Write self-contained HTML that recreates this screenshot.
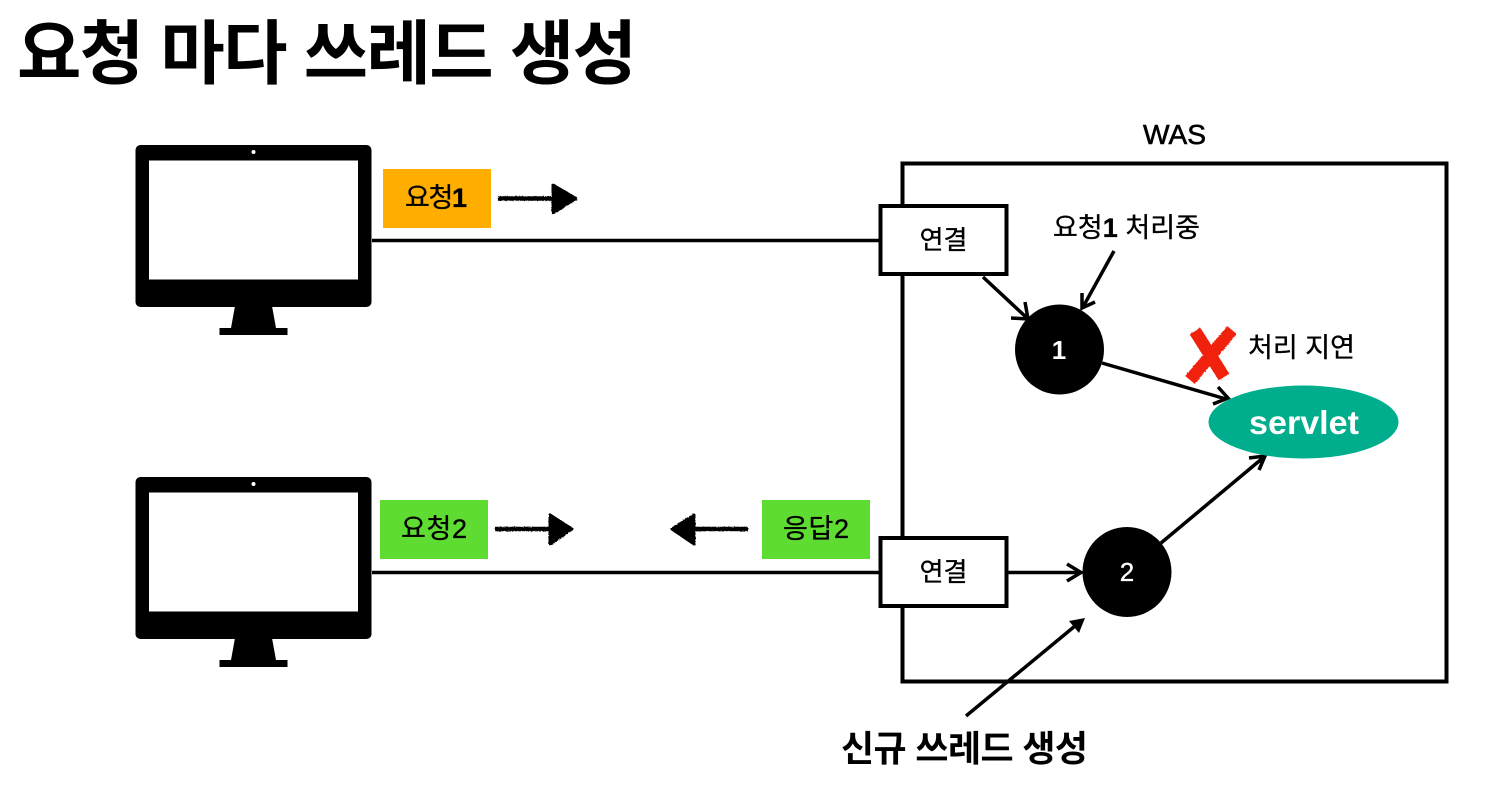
<!DOCTYPE html>
<html lang="ko">
<head>
<meta charset="utf-8">
<style>
html,body{margin:0;padding:0;background:#fff}
svg{display:block}
text{font-family:"Liberation Sans","Noto Sans CJK KR",sans-serif}
.m{stroke:#000;stroke-width:.35px}
.w{stroke:#fff;stroke-width:.35px}
</style>
</head>
<body>
<svg width="1499" height="792" viewBox="0 0 1499 792" xmlns="http://www.w3.org/2000/svg">
<defs>
<g id="mon">
  <rect x="135.5" y="145" width="236" height="162" rx="5" fill="#000"/>
  <rect x="149" y="160.5" width="209" height="119" fill="#fff"/>
  <circle cx="253.5" cy="152" r="2" fill="#fff"/>
  <path d="M235 306 L272 306 L276 328 L287.5 328 L287.5 335 L219.5 335 L219.5 328 L231 328 Z" fill="#000"/>
</g>
<filter id="rough" x="-10%" y="-30%" width="120%" height="160%">
  <feTurbulence type="fractalNoise" baseFrequency="0.7" numOctaves="2" seed="4" result="n"/>
  <feDisplacementMap in="SourceGraphic" in2="n" scale="2"/>
</filter>
</defs>
<rect width="1499" height="792" fill="#fff"/>

<text x="17" y="78" font-size="70" font-weight="700" fill="#000" textLength="620" lengthAdjust="spacing">요청 마다 쓰레드 생성</text>

<use href="#mon"/>
<use href="#mon" y="332"/>

<!-- WAS -->
<text x="1174.5" y="144" font-size="28" text-anchor="middle" fill="#000" stroke="#000" stroke-width=".6" textLength="63" lengthAdjust="spacingAndGlyphs">WAS</text>
<rect x="902.5" y="163.5" width="544" height="518" fill="none" stroke="#000" stroke-width="4"/>

<!-- lines -->
<line x1="372" y1="240.5" x2="882" y2="240.5" stroke="#000" stroke-width="3.5"/>
<line x1="372" y1="572.5" x2="882" y2="572.5" stroke="#000" stroke-width="3.5"/>

<!-- connection boxes -->
<rect x="880.5" y="206" width="126" height="68" fill="#fff" stroke="#000" stroke-width="4"/>
<text x="943.5" y="249" font-size="26" class="m" text-anchor="middle" fill="#000">연결</text>
<rect x="880.5" y="538" width="126" height="68" fill="#fff" stroke="#000" stroke-width="4"/>
<text x="943.5" y="581" font-size="26" class="m" text-anchor="middle" fill="#000">연결</text>

<!-- request labels -->
<rect x="383" y="169" width="108" height="59" fill="#ffae00"/>
<text x="405" y="207" font-size="27" class="m" fill="#000" textLength="62" lengthAdjust="spacing">요청<tspan font-weight="700">1</tspan></text>
<rect x="380" y="500" width="108" height="59" fill="#5fdc32"/>
<text x="401" y="538" font-size="27" class="m" fill="#000" textLength="66" lengthAdjust="spacing">요청2</text>
<rect x="762" y="500" width="108" height="59" fill="#5fdc32"/>
<text x="783" y="538" font-size="27" class="m" fill="#000" textLength="66" lengthAdjust="spacing">응답2</text>

<!-- rough arrows -->
<g stroke="#000" fill="#000" stroke-linejoin="round" filter="url(#rough)">
  <line x1="498" y1="198.5" x2="555" y2="198.5" stroke-width="4.5"/>
  <path d="M553 185 L576 198.5 L553 213 Z" stroke-width="3"/>
  <line x1="495" y1="529" x2="552" y2="529" stroke-width="4.5"/>
  <path d="M550 515 L572 529 L550 544 Z" stroke-width="3"/>
  <line x1="748" y1="529" x2="692" y2="529" stroke-width="4.5"/>
  <path d="M694 515 L672 529 L694 544 Z" stroke-width="3"/>
</g>

<!-- thin arrows -->
<g stroke="#000" stroke-width="3.5" fill="none">
  <line x1="983" y1="277" x2="1027" y2="318"/>
  <polyline points="1011,318 1028,319 1025,302"/>
  <line x1="1114" y1="251" x2="1083" y2="307"/>
  <polyline points="1082,293 1082,308 1095,302"/>
  <line x1="1102" y1="363" x2="1226" y2="399"/>
  <polyline points="1213,404 1228,398 1218,387"/>
  <line x1="1161" y1="543" x2="1264" y2="457"/>
  <polyline points="1249,458 1265,456 1259,470"/>
  <line x1="1007" y1="572.5" x2="1081" y2="572.5"/>
  <polyline points="1067,564 1081,572.5 1067,581"/>
  <line x1="966" y1="716" x2="1075" y2="626"/>
</g>
<path d="M1085 618 L1069 621 L1079 633 Z" fill="#000"/>

<!-- nodes -->
<ellipse cx="1059.5" cy="349.5" rx="44.5" ry="45" fill="#000"/>
<text x="1059" y="359" font-size="26" font-weight="700" text-anchor="middle" fill="#fff">1</text>
<ellipse cx="1127" cy="572" rx="44.5" ry="45" fill="#000"/>
<text x="1127" y="581" font-size="26" class="w" text-anchor="middle" fill="#fff">2</text>

<ellipse cx="1303.5" cy="422" rx="95" ry="36.5" fill="#00ae8e"/>
<text x="1304" y="434" font-size="33" font-weight="700" text-anchor="middle" fill="#fff" textLength="110" lengthAdjust="spacingAndGlyphs">servlet</text>

<!-- red X -->
<g stroke="#f0240e" stroke-width="12.5" fill="none" filter="url(#rough)">
  <line x1="1195" y1="331" x2="1224" y2="377"/>
  <line x1="1232" y1="330" x2="1190" y2="380"/>
</g>

<!-- annotations -->
<text x="1053" y="237" font-size="27" class="m" fill="#000" textLength="147" lengthAdjust="spacing">요청<tspan font-weight="700">1</tspan> 처리중</text>
<text x="1248" y="357" font-size="27" class="m" fill="#000" textLength="107" lengthAdjust="spacing">처리 지연</text>
<text x="841" y="761" font-size="36" font-weight="700" fill="#000" textLength="247" lengthAdjust="spacing">신규 쓰레드 생성</text>
</svg>
</body>
</html>
